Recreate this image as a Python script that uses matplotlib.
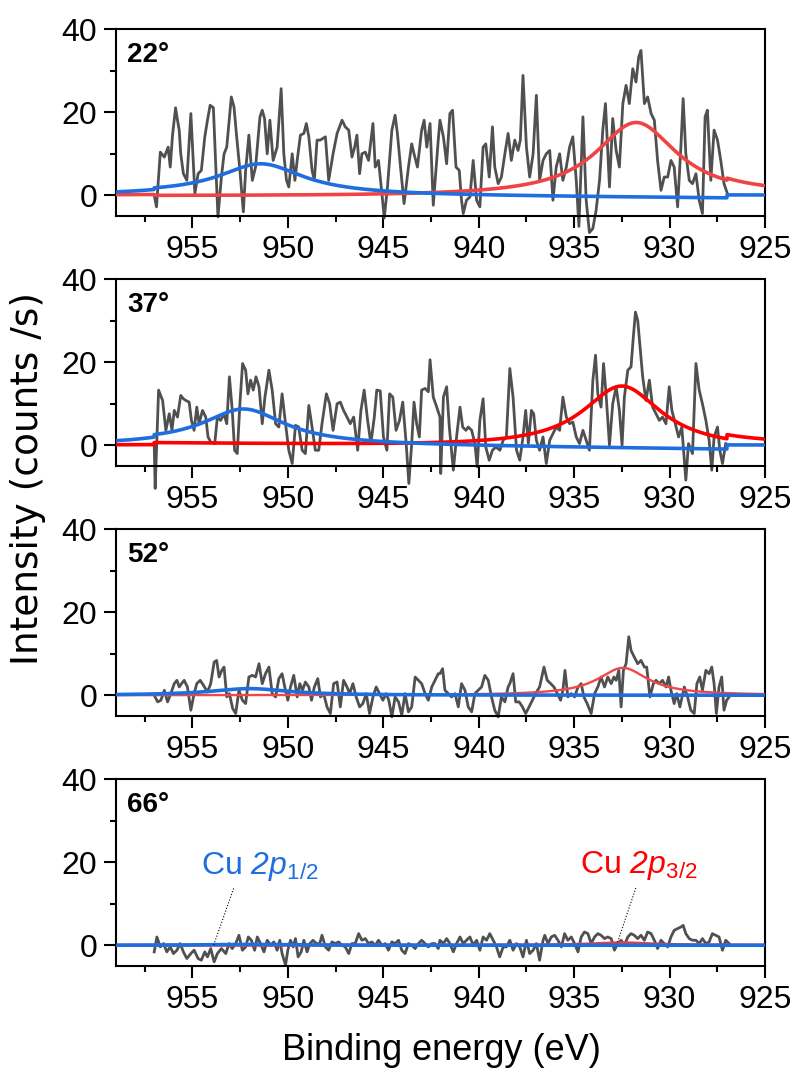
import numpy as np
import matplotlib
matplotlib.use("Agg")
import matplotlib.pyplot as plt
from matplotlib.ticker import MultipleLocator

plt.rcParams['font.family'] = ['Liberation Sans', 'DejaVu Sans']
plt.rcParams['mathtext.fontset'] = 'custom'
plt.rcParams['mathtext.rm'] = 'Liberation Sans'
plt.rcParams['mathtext.it'] = 'Liberation Sans:italic'
plt.rcParams['mathtext.sf'] = 'Liberation Sans:italic'

# ---------------- measured Cu 2p spectra (binding energy eV, counts/s) ----------------
angles = ["22°", "37°", "52°", "66°"]

be_22 = [957.00, 956.88, 956.68, 956.47, 956.27, 956.16, 956.04, 955.88, 955.78, 955.69, 955.61, 955.47,
         955.29, 955.08, 954.87, 954.70, 954.53, 954.35, 954.21, 954.07, 953.90, 953.78, 953.66, 953.48,
         953.34, 953.20, 952.96, 952.82, 952.68, 952.51, 952.33, 952.21, 952.04, 951.86, 951.69, 951.46,
         951.34, 951.22, 951.08, 950.94, 950.77, 950.56, 950.35, 950.21, 950.07, 949.95, 949.77, 949.63,
         949.51, 949.34, 949.16, 949.03, 948.90, 948.73, 948.61, 948.47, 948.30, 948.03, 947.86, 947.63,
         947.42, 947.16, 946.99, 946.81, 946.64, 946.50, 946.38, 946.24, 946.12, 945.94, 945.77, 945.54,
         945.42, 945.25, 945.07, 944.95, 944.78, 944.55, 944.38, 944.26, 944.08, 943.91, 943.68, 943.51,
         943.39, 943.21, 942.99, 942.86, 942.72, 942.55, 942.38, 942.12,
         942.03, 941.85, 941.68, 941.51, 941.37, 941.19, 941.02, 940.90, 940.81, 940.64, 940.46, 940.29,
         940.11, 939.94, 939.77, 939.63, 939.45, 939.28, 939.16, 938.98, 938.81, 938.63, 938.46, 938.29,
         938.11, 937.94, 937.82, 937.68, 937.50, 937.33, 937.15, 936.98, 936.81, 936.63, 936.46, 936.28,
         936.11, 935.94, 935.76, 935.59, 935.41, 935.24, 935.07, 934.89, 934.75, 934.54, 934.37, 934.20,
         934.02, 933.85, 933.67, 933.50, 933.36, 933.15, 932.98, 932.80, 932.63, 932.45, 932.28, 932.11,
         931.93, 931.76, 931.62, 931.50, 931.32, 931.15, 930.97, 930.80, 930.63, 930.45, 930.28, 930.10,
         929.93, 929.76, 929.58, 929.41, 929.29, 929.15, 928.97, 928.80, 928.62, 928.45, 928.28, 928.14,
         928.02, 927.84, 927.67, 927.49, 927.32, 927.15, 926.97]
cps_22 = [0.0, -2.8, 10.4, 9.2, 11.6, 6.8, 14.5, 21.1, 18.1, 15.7, 10.0, 5.2,
          3.6, 19.7, 0.4, 5.2, 6.0, 14.1, 18.1, 21.7, 21.1, 7.6, -5.2, 4.4,
          10.0, 11.6, 23.7, 21.3, 14.1, 6.0, -4.0, 6.0, 14.5, 3.6, 6.8, 18.9,
          20.5, 18.5, 10.0, 18.1, 8.4, 11.6, 25.7, 10.0, 3.6, 2.0, 10.0, 3.6,
          8.4, 14.5, 14.9, 17.3, 14.1, 6.0, 3.6, 13.3, 13.3, 14.1, 3.6, 10.0,
          14.9, 18.1, 16.5, 15.7, 9.2, 11.6, 14.5, 5.2, 10.0, 10.4, 8.4, 17.3,
          6.8, 8.4, 0.4, -5.5, 2.0, 15.7, 19.3, 14.9, 6.0, -2.0, 6.8, 12.4,
          10.0, 6.8, 15.7, 18.1, 11.6, 17.3, -2.4, 13.3,
          18.1, 14.1, 7.6, 19.7, 20.5, 6.8, 6.0, -1.2, -4.4, -1.2, -0.4, 8.4,
          -1.2, -2.8, 11.6, 12.4, 4.4, 16.5, 6.8, 2.8, 4.4, 10.0, 14.9, 8.4,
          13.3, 10.8, 13.3, 28.9, 11.6, 4.4, 10.0, 24.1, 3.6, 8.4, 10.0, 10.8,
          -1.2, 6.8, 10.0, 3.6, 6.8, 11.6, 14.1, 3.6, -7.5, 18.9, -1.2, -9.0,
          -8.0, -3.6, 3.6, 15.7, 22.1, 2.0, 18.5, 10.8, 6.8, 22.1, 26.5, 22.1,
          30.5, 27.3, 33.3, 34.9, 22.1, 23.7, 19.7, 18.1, 8.4, 1.2, 4.4, 4.4,
          8.4, 6.8, -2.8, 11.6, 23.3, 10.0, 3.6, 2.8, 5.2, -1.2, -4.4, 18.9,
          20.5, 3.6, 15.7, 13.3, 8.4, 2.8, 0.4]

be_37 = [957.00, 956.95, 956.77, 956.56, 956.39, 956.21, 956.07, 955.95, 955.78, 955.61, 955.47, 955.34,
         955.17, 955.05, 954.91, 954.77, 954.65, 954.47, 954.30, 954.18, 954.04, 953.83, 953.69, 953.52,
         953.34, 953.20, 953.06, 952.91, 952.79, 952.65, 952.51, 952.37, 952.21, 952.09, 951.95, 951.81,
         951.67, 951.51, 951.34, 951.20, 950.99, 950.82, 950.64, 950.47, 950.30, 950.12, 949.95, 949.77,
         949.60, 949.43, 949.25, 949.08, 948.90, 948.73, 948.56, 948.38, 948.21, 947.98, 947.81, 947.63,
         947.42, 947.25, 947.08, 946.90, 946.73, 946.55, 946.34, 946.17, 946.00, 945.82, 945.65, 945.47,
         945.34, 945.16, 944.99, 944.81, 944.67, 944.50, 944.33, 944.15, 943.98, 943.80, 943.66, 943.51,
         943.39, 943.25, 943.11, 942.99, 942.81, 942.64, 942.55, 942.38, 942.20, 942.03,
         941.99, 941.85, 941.68, 941.54, 941.33, 941.16, 940.98, 940.84, 940.67, 940.55, 940.37, 940.20,
         940.08, 939.94, 939.77, 939.63, 939.45, 939.28, 939.10, 938.89, 938.72, 938.55, 938.37, 938.20,
         938.02, 937.85, 937.68, 937.54, 937.40, 937.24, 937.12, 936.98, 936.81, 936.63, 936.46, 936.28,
         936.11, 935.94, 935.76, 935.59, 935.41, 935.24, 935.07, 934.89, 934.72, 934.54, 934.37, 934.20,
         934.02, 933.88, 933.76, 933.59, 933.46, 933.33, 933.15, 932.98, 932.80, 932.63, 932.49, 932.37,
         932.19, 932.02, 931.90, 931.79, 931.67, 931.55, 931.41, 931.24, 931.06, 930.89, 930.71, 930.54,
         930.37, 930.19, 930.02, 929.88, 929.70, 929.53, 929.36, 929.23, 929.15, 929.01, 928.80, 928.62,
         928.45, 928.28, 928.10, 927.93, 927.79, 927.67, 927.49, 927.37, 927.23, 927.06]
cps_37 = [0.4, -10.4, 13.3, 10.8, 3.6, 7.6, 3.6, 8.4, 6.8, 12.0, 11.2, 10.8,
          10.4, 6.0, 3.6, 9.2, 5.2, 8.4, 6.8, 2.0, 0.8, 0.4, 6.8, 6.0,
          7.6, 5.2, 16.5, 8.4, -1.2, -2.0, 10.0, 19.7, 18.1, 12.4, 15.7, 13.3,
          16.5, 14.1, 5.2, 11.6, 18.1, 13.3, 5.2, 4.4, 12.4, 5.2, -1.2, -4.4,
          4.8, 4.4, -1.2, -2.0, 9.6, 4.4, -1.2, -1.2, 5.2, 12.4, 10.0, 3.6,
          10.0, 10.4, 8.4, 6.8, 5.2, 6.8, -1.2, 8.4, 13.3, 6.0, 0.4, 6.8,
          13.3, 13.1, 2.0, -1.2, 12.4, 11.6, 3.6, 6.0, 10.4, 0.4, -9.2, 0.4,
          10.4, 5.2, 2.0, 13.3, 13.7, 12.9, 20.6, 11.6, 9.2, 6.8,
          -6.8, 11.6, 14.1, 4.4, -6.0, 2.0, 9.2, 4.4, 3.6, 4.4, 3.6, 0.4,
          -5.2, 6.0, 11.2, -0.4, -3.6, -1.2, -0.4, -1.2, 1.2, 2.0, 18.5, 11.6,
          -1.2, -3.6, 2.0, 8.4, 0.4, 8.4, 7.6, 1.2, -1.2, 2.0, -4.4, 1.2,
          2.8, 4.4, 3.6, 11.6, 6.8, 5.2, 5.6, 2.0, 0.4, 3.6, 1.2, -1.2,
          15.7, 21.7, 12.4, 9.2, 19.7, 12.4, 0.0, 10.0, 14.1, 8.4, 0.0, 11.6,
          18.1, 18.9, 26.1, 32.1, 30.1, 23.7, 16.5, 10.8, 15.7, 9.2, 7.6, 6.0,
          6.8, 5.2, 14.1, 8.4, 5.2, 2.0, 4.4, -3.6, -8.4, 0.4, -2.0, 19.7,
          13.3, 10.0, 6.0, 1.2, -6.0, 2.0, 4.4, -1.2, -4.4, 0.4]

be_52 = [957.00, 956.82, 956.65, 956.47, 956.30, 956.13, 955.95, 955.81, 955.69, 955.57, 955.43, 955.26,
         955.08, 954.91, 954.77, 954.59, 954.42, 954.21, 954.04, 953.86, 953.73, 953.60, 953.46, 953.34,
         953.20, 953.06, 952.89, 952.73, 952.56, 952.38, 952.21, 952.04, 951.86, 951.69, 951.51, 951.34,
         951.17, 950.99, 950.82, 950.64, 950.47, 950.30, 950.16, 950.00, 949.86, 949.69, 949.51, 949.37,
         949.23, 949.08, 948.90, 948.76, 948.61, 948.43, 948.29, 948.12, 947.95, 947.77, 947.60, 947.42,
         947.25, 947.08, 946.90, 946.76, 946.59, 946.42, 946.24, 946.07, 945.89, 945.72, 945.54, 945.37,
         945.20, 945.02, 944.85, 944.71, 944.55, 944.38, 944.20, 944.03, 943.86, 943.68, 943.51, 943.33,
         943.16, 942.99, 942.81, 942.64, 942.46, 942.29, 942.12,
         942.03, 941.89, 941.77, 941.59, 941.42, 941.24, 941.07, 940.90, 940.72, 940.55, 940.37, 940.20,
         940.03, 939.85, 939.68, 939.50, 939.33, 939.16, 938.98, 938.81, 938.63, 938.46, 938.37, 938.20,
         938.06, 937.88, 937.71, 937.54, 937.36, 937.19, 937.02, 936.81, 936.58, 936.41, 936.23, 936.06,
         935.88, 935.71, 935.59, 935.48, 935.33, 935.15, 934.98, 934.80, 934.63, 934.49, 934.32, 934.11,
         933.93, 933.76, 933.59, 933.41, 933.24, 933.06, 932.92, 932.80, 932.66, 932.54, 932.42, 932.28,
         932.14, 932.02, 931.85, 931.67, 931.50, 931.32, 931.20, 931.03, 930.85, 930.71, 930.54, 930.37,
         930.19, 930.05, 929.93, 929.76, 929.63, 929.46, 929.23, 929.06, 928.89, 928.71, 928.57, 928.42,
         928.28, 928.10, 927.93, 927.79, 927.67, 927.55, 927.41, 927.27, 927.15, 927.01, 926.88]
cps_52 = [0.0, -1.6, -1.2, 1.2, -1.6, 0.4, 2.8, 3.6, 2.0, 2.8, 3.6, 2.0,
          -3.6, 0.4, 2.8, 3.6, 2.4, 0.8, 2.8, 8.0, 8.4, 4.4, 6.0, 6.8,
          -0.4, 0.4, -3.2, -4.4, 1.2, -1.2, -2.0, 4.4, 4.8, 4.4, 7.6, 2.8,
          5.2, 6.8, 0.4, -0.4, 4.0, 5.2, 2.0, -1.2, 2.0, 4.8, -0.4, 2.8,
          1.2, 3.2, 2.0, -1.2, 2.0, 4.0, -0.4, 0.4, -2.8, -4.4, 2.8, 3.2,
          -2.8, 3.6, 2.0, 0.4, 2.8, -0.4, -2.8, -2.0, 0.4, -4.4, -0.4, 2.0,
          0.4, -1.2, 0.4, -1.2, -5.2, -0.4, -1.6, -4.8, 0.4, -4.0, -2.8, 4.4,
          3.6, 2.8, 0.4, -1.2, 2.0, 3.6, 5.2,
          5.2, 6.4, 1.2, 0.4, -0.4, 0.4, -2.8, 2.8, 1.2, -2.8, -4.0, 0.4,
          1.2, 2.0, 4.8, 3.6, -0.4, -3.6, -5.2, -0.4, -1.6, 2.0, 2.8, 5.2,
          -1.6, -1.6, -2.8, -4.4, -2.8, -1.2, 0.4, 2.0, 6.8, 3.6, 2.8, 2.0,
          0.4, -1.2, 1.2, 6.0, -0.4, 0.4, -0.4, 2.0, 2.8, -0.4, -2.0, -4.4,
          0.4, 2.0, 4.4, 2.0, 4.4, 2.8, 4.4, 3.6, 6.0, -2.8, 6.0, 7.6,
          14.1, 10.8, 9.2, 7.6, 8.4, 6.8, 6.8, -0.4, 2.8, 3.6, 2.8, 3.6,
          2.0, 4.4, 1.2, -2.0, 0.4, -2.8, 2.0, -0.4, -3.6, -4.4, 2.8, 4.4,
          1.2, 6.0, 5.2, 6.8, 2.8, -4.4, 2.0, 4.4, -3.6, -1.2, -0.4]

be_66 = [957.00, 956.86, 956.68, 956.51, 956.34, 956.16, 955.99, 955.81, 955.64, 955.47, 955.29, 955.08,
         954.91, 954.70, 954.53, 954.35, 954.21, 954.04, 953.86, 953.69, 953.48, 953.25, 953.08, 952.91,
         952.73, 952.56, 952.38, 952.21, 952.07, 951.91, 951.74, 951.60, 951.43, 951.25, 951.08, 950.90,
         950.73, 950.56, 950.42, 950.30, 950.12, 950.00, 949.86, 949.72, 949.60, 949.46, 949.30, 949.16,
         948.99, 948.85, 948.68, 948.50, 948.33, 948.21, 948.03, 947.86, 947.69, 947.51, 947.34, 947.16,
         946.99, 946.81, 946.64, 946.47, 946.29, 946.12, 945.94, 945.77, 945.60, 945.42, 945.25, 945.07,
         944.90, 944.73, 944.55, 944.38, 944.20, 944.03, 943.86, 943.68, 943.51, 943.33, 943.16, 942.99,
         942.81, 942.64, 942.46, 942.29, 942.12,
         942.03, 941.85, 941.68, 941.51, 941.33, 941.16, 940.98, 940.81, 940.64, 940.46, 940.29, 940.11,
         939.94, 939.77, 939.59, 939.42, 939.24, 939.07, 938.90, 938.72, 938.55, 938.37, 938.20, 938.02,
         937.85, 937.68, 937.50, 937.33, 937.15, 936.98, 936.81, 936.63, 936.54, 936.37, 936.20, 936.02,
         935.85, 935.67, 935.50, 935.33, 935.15, 934.98, 934.80, 934.63, 934.46, 934.28, 934.11, 933.93,
         933.76, 933.59, 933.41, 933.24, 933.06, 932.89, 932.72, 932.54, 932.37, 932.19, 932.02, 931.85,
         931.67, 931.50, 931.32, 931.15, 930.97, 930.80, 930.63, 930.45, 930.28, 930.10, 929.93, 929.76,
         929.58, 929.41, 929.29, 929.15, 928.97, 928.80, 928.62, 928.45, 928.28, 928.10, 927.93, 927.76,
         927.58, 927.41, 927.23, 927.06, 926.88]
cps_66 = [-1.6, 2.0, -0.4, 0.4, -1.6, -0.4, -2.0, -1.2, 0.4, -1.6, -3.2, -2.0,
          -1.2, -3.2, -3.6, -1.6, -2.8, -0.8, -4.0, -2.0, -0.8, -2.0, 0.4, -0.8,
          0.4, 2.4, -1.2, -0.4, 2.0, 1.2, -1.2, 2.0, 0.4, -1.6, 1.2, 0.0,
          0.8, -1.2, 1.2, -2.0, -4.8, -1.2, 1.2, -0.4, 1.6, -2.8, -1.6, 1.2,
          -1.6, 0.4, 1.2, 0.4, 0.4, 2.4, -0.4, -1.2, 0.8, 0.4, 0.8, 0.0,
          -0.4, -2.0, 0.4, 0.4, 2.8, 1.2, 1.6, 0.4, 0.8, 0.0, 1.2, 0.0,
          0.4, -1.2, 0.8, 0.4, 1.2, -1.2, -2.0, 0.4, 0.0, -0.8, 0.4, 1.2,
          0.4, -0.4, 0.4, 0.4, -0.8,
          1.2, 0.4, 1.6, 0.4, -1.6, 0.4, 2.0, 0.4, 1.2, 2.0, 0.0, 1.2,
          -1.2, 2.0, 1.2, 2.8, 1.2, -0.4, -2.8, -0.4, -0.4, 1.2, -1.2, 0.4,
          -0.4, -2.8, 1.2, -2.0, -1.2, 0.4, -3.6, 1.2, 2.4, 0.4, 2.0, 2.4,
          1.2, -0.4, 2.8, 1.2, 2.0, 0.4, -1.6, 2.0, 3.2, 2.8, 0.4, 2.0,
          2.8, 2.4, 1.6, 2.0, 1.6, -1.2, 0.4, 1.2, 0.0, 2.0, 2.8, 2.4,
          1.6, 2.4, 1.2, 3.2, 2.8, 1.2, -0.8, 1.2, 0.4, -0.4, 2.0, 3.6,
          4.0, 4.4, 4.8, 2.8, 1.6, 1.2, 1.2, 0.4, 1.6, 0.4, 0.8, 2.8,
          2.4, 2.0, -1.2, 1.2, 0.4]

spectra_be = [be_22, be_37, be_52, be_66]
spectra_cps = [cps_22, cps_37, cps_52, cps_66]

# ---------------- fitted components (Lorentzian line + background over scan range) ----------------
scan_start, scan_end = 957.0, 927.0

p12_center = [951.4, 952.3, 952.0, 952.0]
p12_height = [7.4, 8.4, 1.6, 0.2]
p12_hwhm = [2.7, 2.6, 2.5, 2.5]
p12_bg_start = [0.4, 0.6, 0.0, 0.0]
p12_bg_end = [-0.7, -1.0, 0.0, 0.0]

p32_center = [931.75, 932.5, 932.45, 932.5]
p32_height = [18.0, 15.0, 6.6, 0.6]
p32_hwhm = [2.6, 2.5, 1.6, 1.8]
p32_bg_start = [-0.2, 0.5, 0.0, 0.0]
p32_bg_end = [-0.5, -1.0, 0.0, 0.0]

p32_colors = ["#F04444", "#FF0000", "#F04848", "#F03C3C"]
p32_widths = [2.6, 2.6, 1.7, 2.2]
blue = "#1E6EE0"
gray = "#505050"


def component(x, center, height, hwhm, bg_start, bg_end):
    peak = height / (1.0 + ((x - center) / hwhm) ** 2)
    inside = (x <= scan_start) & (x >= scan_end)
    frac = (scan_start - x) / (scan_start - scan_end)
    bg = np.where(inside, bg_start + (bg_end - bg_start) * frac, 0.0)
    return peak + bg


fig = plt.figure(figsize=(7.98, 10.78), dpi=100)

left, width, height = 0.1454, 0.8133, 0.1732
bottoms = [0.7996, 0.5677, 0.3358, 0.1039]
grid = np.linspace(959.0, 925.0, 3401)

axes = []
for i in range(4):
    ax = fig.add_axes([left, bottoms[i], width, height])
    axes.append(ax)
    ax.plot(spectra_be[i], spectra_cps[i], color=gray, lw=2.0, zorder=2, clip_on=False)
    ax.plot(grid, component(grid, p32_center[i], p32_height[i], p32_hwhm[i],
                            p32_bg_start[i], p32_bg_end[i]),
            color=p32_colors[i], lw=p32_widths[i], zorder=3)
    ax.plot(grid, component(grid, p12_center[i], p12_height[i], p12_hwhm[i],
                            p12_bg_start[i], p12_bg_end[i]),
            color=blue, lw=2.6, zorder=4)

    ax.set_xlim(959, 925)
    ax.set_ylim(-5, 40)
    ax.xaxis.set_major_locator(MultipleLocator(5))
    ax.xaxis.set_minor_locator(MultipleLocator(2.5))
    ax.yaxis.set_major_locator(MultipleLocator(20))
    ax.yaxis.set_minor_locator(MultipleLocator(10))
    ax.tick_params(which='both', direction='out', top=False, right=False, width=1.5)
    ax.tick_params(which='major', length=8.5, labelsize=23, pad=5)
    ax.tick_params(which='minor', length=4.5)
    for sp in ax.spines.values():
        sp.set_linewidth(1.5)
    ax.text(0.017, 0.93, angles[i], transform=ax.transAxes, ha='left', va='top',
            fontsize=20, fontweight='bold')

# peak labels in the bottom panel
ax = axes[3]
ax.text(954.57, 17.1, r'Cu $\mathsf{2p}_{\mathrm{1/2}}$', color=blue, fontsize=23,
        ha='left', va='baseline')
ax.plot([952.84, 953.89], [13.7, 0.0], color='black', lw=0.8, ls=':', zorder=5)
ax.text(934.68, 17.4, r'Cu $\mathsf{2p}_{\mathrm{3/2}}$', color='#FF0000', fontsize=23,
        ha='left', va='baseline')
ax.plot([931.77, 932.76], [13.8, 0.3], color='black', lw=0.8, ls=':', zorder=5)

fig.text(0.5527, 1 - 1050 / 1078, 'Binding energy (eV)', fontsize=26,
         ha='center', va='center')
fig.text(28 / 798, 1 - 478 / 1078, 'Intensity (counts /s)', fontsize=27,
         family='DejaVu Sans', ha='center', va='center', rotation=90)

fig.savefig('out.png', dpi=100)
